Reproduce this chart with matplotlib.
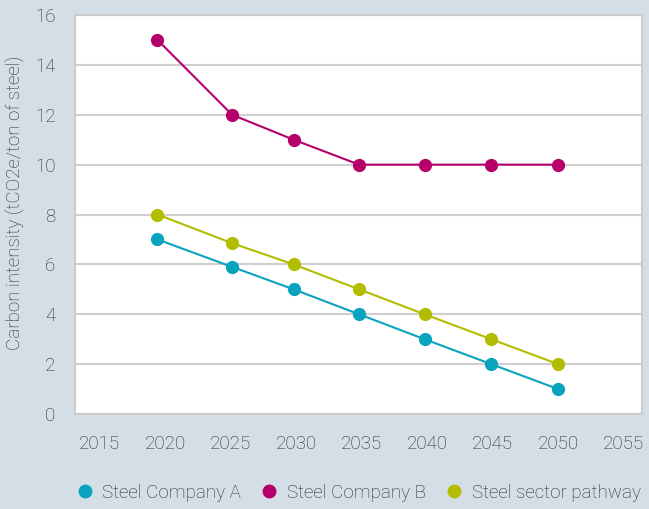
import matplotlib
matplotlib.use("Agg")
import matplotlib.pyplot as plt
from matplotlib.lines import Line2D

years = [2019.4, 2025.1, 2029.8, 2034.8, 2039.8, 2044.9, 2050.0]
company_a = [7.0, 5.9, 5.0, 4.0, 3.0, 2.0, 1.0]
company_b = [15.0, 12.0, 11.0, 10.0, 10.0, 10.0, 10.0]
pathway = [8.0, 6.85, 6.0, 5.0, 4.0, 3.0, 2.0]
series_names = ["Steel Company A", "Steel Company B", "Steel sector pathway"]
x_ticks = [2015, 2020, 2025, 2030, 2035, 2040, 2045, 2050, 2055]
y_ticks = [0, 2, 4, 6, 8, 10, 12, 14, 16]

colors = ["#0aa3bf", "#b5006a", "#b3bd00"]
bg = "#d4dee7"
txt = "#2a2a2a"

plt.rcParams['font.family'] = ['Roboto', 'DejaVu Sans']
plt.rcParams['font.weight'] = 'light'
fig = plt.figure(figsize=(6.49, 5.09), dpi=100, facecolor=bg)
ax = fig.add_axes([0.1156, 0.1866, 0.8734, 0.7839])
ax.set_facecolor("white")

for vals, c in zip([company_a, company_b, pathway], colors):
    ax.plot(years, vals, color=c, lw=1.5, marker="o", markersize=8.5, zorder=3)

ax.set_xlim(2013.1, 2056.4)
ax.set_ylim(0, 16)
ax.set_xticks(x_ticks)
ax.set_yticks(y_ticks)
ax.tick_params(axis="both", length=0, labelsize=13.5, labelcolor=txt)
ax.tick_params(axis="y", pad=14)
ax.tick_params(axis="x", pad=15)
for lab in ax.get_xticklabels() + ax.get_yticklabels():
    lab.set_fontweight("light")
ax.grid(axis="y", color="#cfcfcf", lw=1.5)
ax.set_axisbelow(True)
for s in ax.spines.values():
    s.set_color("#cccccc")
    s.set_linewidth(1.5)

ax.set_ylabel("Carbon intensity (tCO2e/ton of steel)", fontsize=13.5, color=txt,
              fontweight="light")
ax.yaxis.set_label_coords(-0.088, 0.53)

handles = [Line2D([], [], ls="none", marker="o", markersize=9, color=c) for c in colors]
leg = fig.legend(handles, series_names, loc="center left", bbox_to_anchor=(0.09, 0.032),
                 ncol=3, frameon=False, handletextpad=0.45,
                 columnspacing=1.0, handlelength=1.0, prop={"weight": "light", "size": 13.5})
for t in leg.get_texts():
    t.set_color(txt)

fig.savefig("out.png", dpi=100, facecolor=bg)
